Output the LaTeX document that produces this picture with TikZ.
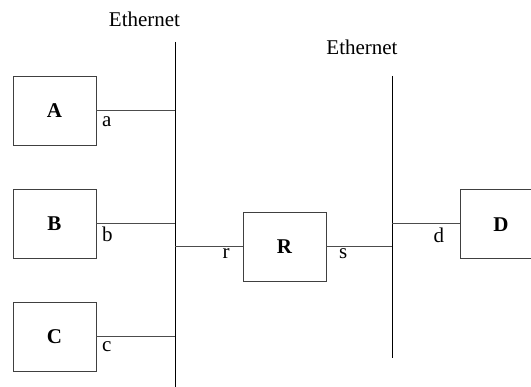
\documentclass[tikz,border=0pt]{standalone}
\usepackage{fontspec}
\setmainfont{Liberation Serif}
\begin{document}
\begin{tikzpicture}[x=1pt,y=-1pt,
  host/.style={draw=black!75,line width=0.9pt,minimum width=83pt,minimum height=69pt,inner sep=0pt,font=\fontsize{21}{25}\selectfont\bfseries},
  link/.style={draw=black!70,line width=0.9pt},
  bus/.style={draw=black,line width=0.9pt},
  lbl/.style={inner sep=0pt,anchor=base west,font=\fontsize{21}{25}\selectfont},
  netlbl/.style={inner sep=0pt,anchor=base,font=\fontsize{21}{25}\selectfont}]
\useasboundingbox (0,0) rectangle (531,387);
\clip (0,0) rectangle (531,387);
\fill[white] (0,0) rectangle (531,387);
% hosts
\node[host] (A) at (54.5,110.5) {A};
\node[host] (B) at (54.5,223.5) {B};
\node[host] (C) at (54.5,336.5) {C};
\node[host] (R) at (284.5,246.5) {R};
\node[host] (D) at (501.5,223.5) {};
\node[inner sep=0pt,anchor=base,font=\fontsize{21}{25}\selectfont\bfseries] (Dl) at (501,232) {D};
% buses
\coordinate (e1t) at (175,42);
\coordinate (e1b) at (175,390);
\coordinate (e2t) at (392,76);
\coordinate (e2b) at (392,358);
\draw[bus] (e1t) -- (e1b);
\draw[bus] (e2t) -- (e2b);
% taps
\coordinate (ta) at (175,110.5);
\coordinate (tb) at (175,223.5);
\coordinate (tc) at (175,336.5);
\coordinate (tr) at (175,246.5);
\coordinate (ts) at (392,246.5);
\coordinate (td) at (392,223.5);
\draw[link] (A.east) -- (ta);
\draw[link] (B.east) -- (tb);
\draw[link] (C.east) -- (tc);
\draw[link] (tr) -- (R.west);
\draw[link] (R.east) -- (ts);
\draw[link] (td) -- (D.west);
% labels
\node[netlbl] (n1) at (144.5,26.7) {Ethernet};
\node[netlbl] (n2) at (362,55) {Ethernet};
\node[lbl] (la) at (102,126.5) {a};
\node[lbl] (lb) at (102,242) {b};
\node[lbl] (lc) at (102,352) {c};
\node[lbl] (lr) at (222.5,259) {r};
\node[lbl] (ls) at (339,259) {s};
\node[lbl] (ld) at (433.5,243) {d};
\end{tikzpicture}
\end{document}
